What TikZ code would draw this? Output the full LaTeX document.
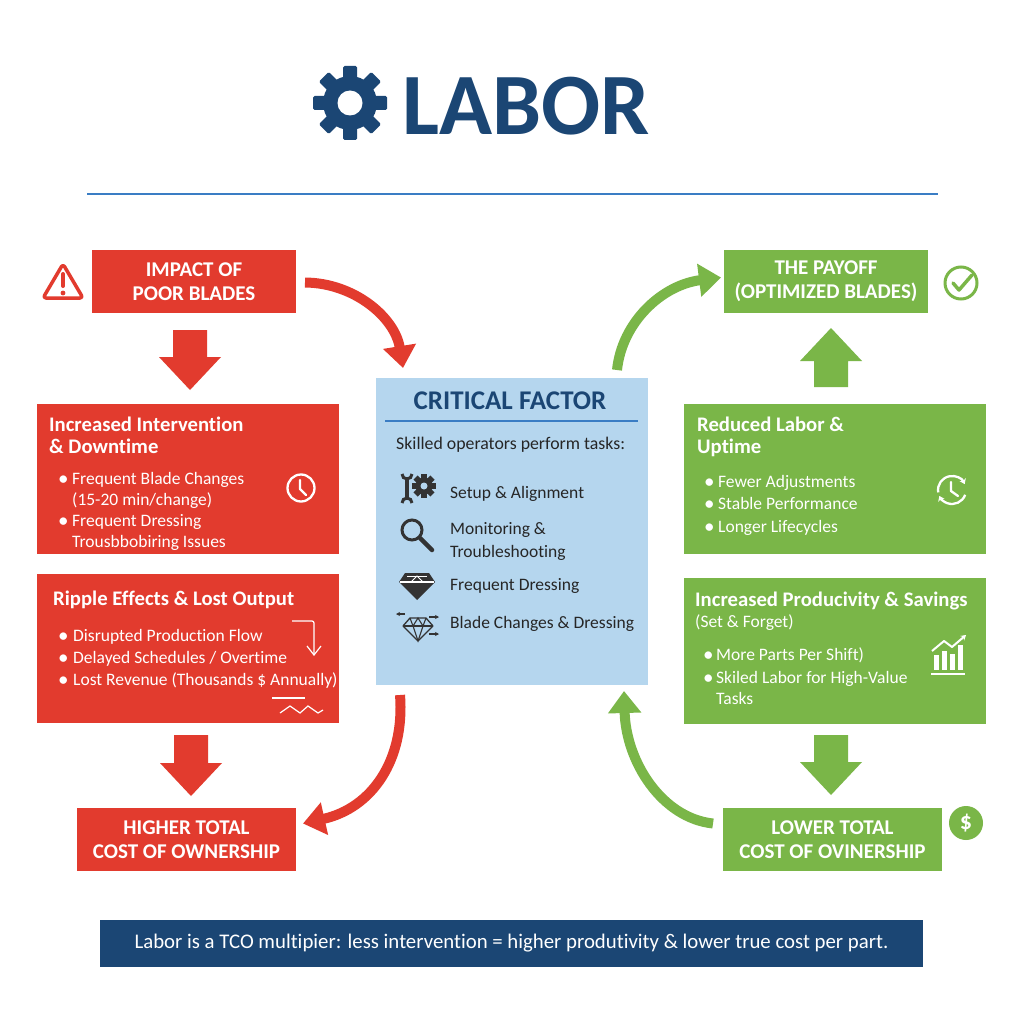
\documentclass[tikz,border=0pt]{standalone}
\usepackage{fontspec}
\setmainfont{Carlito}[Ligatures=NoCommon]
\usetikzlibrary{arrows.meta,calc}
\definecolor{cred}{HTML}{E23B2E}
\definecolor{cgreen}{HTML}{7AB648}
\definecolor{clblue}{HTML}{B5D6EE}
\definecolor{cdblue}{HTML}{1B4674}
\definecolor{cline}{HTML}{3A7DC4}
\definecolor{cicon}{HTML}{333333}
\newcommand\blkdown[4]{\fill[#4] (#1-17,#2) -- (#1+17,#2) -- (#1+17,#3-33) -- (#1+31,#3-33) -- (#1,#3) -- (#1-31,#3-33) -- (#1-17,#3-33) -- cycle;}
\newcommand\blkup[4]{\fill[#4] (#1-17,#3) -- (#1+17,#3) -- (#1+17,#2+33) -- (#1+31,#2+33) -- (#1,#2) -- (#1-31,#2+33) -- (#1-17,#2+33) -- cycle;}
\begin{document}
\begin{tikzpicture}[x=1pt,y=-1pt,
  box/.style={inner sep=0pt, outer sep=0pt, draw=none},
  captxt/.style={text=white, font={\bfseries\fontsize{21}{24}\selectfont}, align=center},
  hd/.style={anchor=base west, inner sep=0pt, text=white, font={\bfseries\fontsize{20.7}{22}\selectfont}},
  bt/.style={anchor=base west, inner sep=0pt, text=white, font={\fontsize{17.5}{21}\selectfont}},
  bul/.style={anchor=base west, inner sep=0pt, text=white, font={\fontsize{21}{21}\selectfont}},
  ct/.style={anchor=base west, inner sep=0pt, text=black!85, font={\fontsize{17.5}{21}\selectfont}},
  curveR/.style={draw=cred, line width=10pt, -{Triangle[width=32pt,length=22pt]}},
  curveG/.style={draw=cgreen, line width=10pt, -{Triangle[width=32pt,length=22pt]}},
]
\useasboundingbox[fill=white] (0,0) rectangle (1024,1024);

% ---------- title ----------
\fill[cdblue] (350,103) circle (27);
\foreach \a in {0,45,...,315}
  \fill[cdblue, rotate around={\a:(350,103)}, rounded corners=1.5pt] (343,66) rectangle (357,82);
\fill[white] (350,103) circle (12.5);
\node[anchor=base west, inner sep=0pt, text=cdblue, font={\bfseries\fontsize{87.5}{90}\selectfont}] (title) at (402,135) {LABOR};
\draw[cline, line width=2.2pt] (87,194) -- (938,194);

% ---------- boxes ----------
\node[box, fill=cred, minimum width=204pt, minimum height=63pt, captxt] (b1) at (194,281.5) {IMPACT OF\\POOR BLADES};
\node[box, fill=cred, minimum width=302pt, minimum height=150pt] (b2) at (188,479) {};
\node[box, fill=cred, minimum width=302pt, minimum height=149pt] (b3) at (188,648.5) {};
\node[box, fill=cred, minimum width=219pt, minimum height=63pt, captxt] (b4) at (186.5,839.5) {HIGHER TOTAL\\COST OF OWNERSHIP};

\node[box, fill=clblue, minimum width=272pt, minimum height=307pt] (cf) at (512,531.5) {};

\node[box, fill=cgreen, minimum width=204pt, minimum height=63pt, captxt] (g1) at (826,281.5) {THE PAYOFF\\(OPTIMIZED BLADES)};
\node[box, fill=cgreen, minimum width=302pt, minimum height=150pt] (g2) at (835,479) {};
\node[box, fill=cgreen, minimum width=302pt, minimum height=146pt] (g3) at (835,651) {};
\node[box, fill=cgreen, minimum width=219pt, minimum height=63pt, captxt] (g4) at (832.5,839.5) {LOWER TOTAL\\COST OF OVINERSHIP};

\node[box, fill=cdblue, minimum width=823pt, minimum height=47pt, text=white, font={\fontsize{20.8}{24}\selectfont}] (banner) at (511.5,943.5) {Labor is a TCO multipier: less intervention = higher produtivity \& lower true cost per part.};

% ---------- block arrows ----------
\blkdown{190}{330}{390}{cred}
\blkdown{191}{735}{796}{cred}
\blkup{831}{328}{387}{cgreen}
\blkdown{831}{735}{795}{cgreen}

% ---------- curved arrows ----------
\draw[curveR] ($(b1.east)+(9,1)$) .. controls (355,283) and (395,318) .. ($(cf.north west)+(27,-10)$);
\draw[curveR] ($(cf.south west)+(24,10)$) .. controls (405,760) and (372,808) .. ($(b4.east)+(7,-16)$);
\draw[curveG] ($(cf.north east)+(-31,-8)$) .. controls (622,322) and (662,285) .. ($(g1.west)+(-3,-4)$);
\draw[curveG] ($(g4.west)+(-10,-16)$) .. controls (662,818) and (626,762) .. ($(cf.south east)+(-24,6)$);

% ---------- red box 2 text ----------
\node[hd] (r2a) at (49,431) {Increased Intervention};
\node[hd] (r2b) at (49,453) {\& Downtime};
\node[bul] (r2c) at (58,485) {\textbullet};
\node[bt] (r2d) at (72,484) {Frequent Blade Changes};
\node[bt] (r2e) at (72,505) {(15-20 min/change)};
\node[bul] (r2f) at (58,527) {\textbullet};
\node[bt] (r2g) at (72,526) {Frequent Dressing};
\node[bt] (r2h) at (72,547) {Trousbbobiring Issues};
\draw[white, line width=2.3pt] (301,488) circle (13.5);
\draw[white, line width=2.3pt, line cap=round, line join=round] (300,480) -- (300,489) -- (306,495);

% ---------- red box 3 text ----------
\node[hd] (r3a) at (53,605) {Ripple Effects \& Lost Output};
\node[bul] (r3b) at (58,642) {\textbullet};
\node[bt] (r3c) at (73,641) {Disrupted Production Flow};
\node[bul] (r3d) at (58,664) {\textbullet};
\node[bt] (r3e) at (73,663) {Delayed Schedules / Overtime};
\node[bul] (r3f) at (58,686) {\textbullet};
\node[bt] (r3g) at (73,685) {Lost Revenue (Thousands \$ Annually)};
\draw[white, line width=1.2pt, rounded corners=2pt] (292,621) -- (314,621) -- (314,654);
\draw[white, line width=1.2pt] (307,646) -- (314,655) -- (321,646);
\draw[white, line width=1.2pt] (272,698) -- (305,698);
\draw[white, line width=1.2pt] (280,713) -- (290,706) -- (300,713) -- (308,706) -- (318,713) -- (323,710);

% ---------- center box ----------
\node[anchor=base, inner sep=0pt, text=cdblue, font={\bfseries\fontsize{27}{30}\selectfont}] (cft) at (510,409) {CRITICAL FACTOR};
\draw[cline, line width=2.5pt] (385,421) -- (638,421);
\node[ct, font={\fontsize{17.8}{21}\selectfont}] (c0) at (396,449) {Skilled operators perform tasks:};
\node[ct] (c1) at (450,498) {Setup \& Alignment};
\node[ct] (c2) at (450,534) {Monitoring \&};
\node[ct] (c3) at (450,557) {Troubleshooting};
\node[ct] (c4) at (450,590) {Frequent Dressing};
\node[ct] (c5) at (450,628) {Blade Changes \& Dressing};
% wrench + gear
\fill[cicon] (424,486) circle (8.5);
\foreach \a in {0,45,...,315}
  \fill[cicon, rotate around={\a:(424,486)}] (421,474) rectangle (427,480);
\fill[clblue] (424,486) circle (3.5);
\draw[cicon, line width=4pt] (407,477) -- (407,500);
\draw[cicon, line width=3pt] ($(407,474)+(180:5)$) arc[start angle=180, end angle=0, radius=5];
\draw[cicon, line width=3pt] ($(407,503)+(180:5)$) arc[start angle=180, end angle=360, radius=5];
% magnifier
\draw[cicon, line width=3pt] (412,530) circle (10);
\draw[cicon, line width=4.5pt, line cap=round] (420,538) -- (432,550);
% filled diamond
\fill[cicon] (405,573) -- (429,573) -- (435,582) -- (417,600) -- (399,582) -- cycle;
\draw[white, line width=1.3pt] (400,582) -- (434,582);
\draw[white, line width=1pt] (411,582) -- (417,576) -- (423,582);
\draw[white, line width=1pt] (407,576) -- (427,576);
% outline diamond with arrows
\draw[cicon, line width=1.3pt, line join=round] (410,618) -- (426,618) -- (433,626) -- (418,641) -- (403,626) -- cycle;
\draw[cicon, line width=1.1pt] (403,626) -- (433,626);
\draw[cicon, line width=1.1pt] (410,618) -- (413,626) -- (418,641) -- (423,626) -- (426,618);
\draw[cicon, line width=1.1pt] (413,626) -- (418,618) -- (423,626);
\draw[cicon, line width=1.3pt, -{Stealth[length=4pt,width=4pt]}] (405,614) -- (396,614);
\draw[cicon, line width=1.3pt, -{Stealth[length=4pt,width=4pt]}] (429,617) -- (439,617);
\draw[cicon, line width=1.3pt, -{Stealth[length=4pt,width=4pt]}] (429,634) -- (439,634);

% ---------- warning triangle ----------
\draw[cred, line width=3.5pt, line join=round, rounded corners=3pt] (63,264) -- (83,298) -- (43,298) -- cycle;
\draw[cred, line width=4pt, line cap=round] (63,274) -- (63,286);
\fill[cred] (63,293) circle (2.4);

% ---------- green box 1 icon ----------
\draw[cgreen, line width=3pt] (961,283) circle (16);
\draw[cgreen, line width=3.5pt, line cap=round, line join=round] (953,283) -- (959,290) -- (972,275);

% ---------- green box 2 ----------
\node[hd] (g2a) at (697,431) {Reduced Labor \&};
\node[hd] (g2b) at (697,453) {Uptime};
\node[bul] (g2c) at (704,488) {\textbullet};
\node[bt] (g2d) at (718,487) {Fewer Adjustments};
\node[bul] (g2e) at (704,510) {\textbullet};
\node[bt] (g2f) at (718,509) {Stable Performance};
\node[bul] (g2g) at (704,533) {\textbullet};
\node[bt] (g2h) at (718,532) {Longer Lifecycles};
\draw[white, line width=2.3pt, -{Stealth[length=5pt,width=7pt]}] ($(952,490)+(170:14)$) arc[start angle=170, end angle=335, radius=14];
\draw[white, line width=2.3pt, -{Stealth[length=5pt,width=7pt]}] ($(952,490)+(20:14)$) arc[start angle=20, end angle=155, radius=14];
\draw[white, line width=2.3pt, line cap=round, line join=round] (951,482) -- (951,491) -- (958,496);

% ---------- green box 3 ----------
\node[hd] (g3a) at (695,606) {Increased Producivity \& Savings};
\node[bt] (g3b) at (695,627) {(Set \& Forget)};
\node[bul] (g3c) at (703,661) {\textbullet};
\node[bt] (g3d) at (716,660) {More Parts Per Shift)};
\node[bul] (g3e) at (703,684) {\textbullet};
\node[bt] (g3f) at (716,683) {Skiled Labor for High-Value};
\node[bt] (g3g) at (716,704) {Tasks};
\fill[white] (934,655) rectangle (939,670);
\fill[white] (942,651) rectangle (947,670);
\fill[white] (950,654) rectangle (955,670);
\fill[white] (958,645) rectangle (963,670);
\draw[white, line width=1.8pt] (931,674) -- (965,674);
\draw[white, line width=2pt, line join=round, -{Stealth[length=5pt,width=6pt]}] (932,651) -- (944,641) -- (952,647) -- (966,635);

% ---------- green box 4 icon ----------
\fill[cgreen] (966,823) circle (17);
\node[inner sep=0pt, text=white, font={\bfseries\fontsize{24}{24}\selectfont}] (dollar) at (966,823) {\$};
\end{tikzpicture}
\end{document}
